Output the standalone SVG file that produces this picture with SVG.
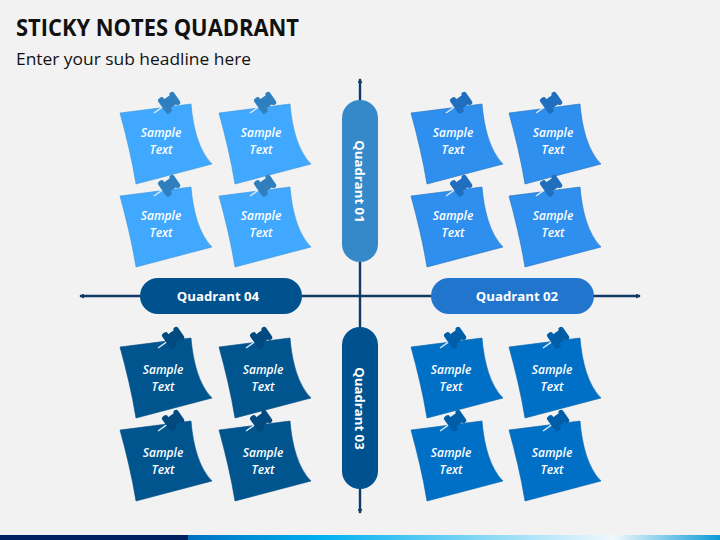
<svg xmlns="http://www.w3.org/2000/svg" xmlns:xlink="http://www.w3.org/1999/xlink" width="720" height="540" viewBox="0 0 720 540">
<style>
.t{font-family:"Open Sans","Liberation Sans",sans-serif}
.nt{font-size:12px;font-weight:600;font-style:italic;fill:#fff;text-anchor:middle}
.pl{font-size:13.2px;font-weight:700;fill:#fff;text-anchor:middle}
.ax{stroke:#0F3A66;stroke-width:2.4;fill:none}
.q1{fill:#40A9FF;stroke:#3A93D8;stroke-width:.6}
.q2{fill:#2E8FEF;stroke:#1F6FBE;stroke-width:.6}
.q3{fill:#0070C6;stroke:#0060A8;stroke-width:.6}
.q4{fill:#00558F;stroke:#004A80;stroke-width:.6}
</style>
<defs>
<path id="sheet" d="M0 0L71 -9C73 15 79 38 92 51L16 71C12 46 6 22 0 0Z"/>
<linearGradient id="bar" x1="0" x2="1" y1="0" y2="0">
<stop offset="0" stop-color="#0070C0"/><stop offset=".25" stop-color="#00B0F0"/><stop offset=".8" stop-color="#F2F8FC"/><stop offset="1" stop-color="#0A9BD8"/>
</linearGradient>
<g id="pin">
<path d="M0 0L11 0" stroke="#DCEBF5" stroke-width="1.4" fill="none"/>
<rect x="10" y="-9" width="6.500" height="18" rx="2.500"/>
<rect x="15" y="-5.500" width="9" height="11"/>
<rect x="23" y="-7.500" width="5" height="15" rx="2.500"/>
</g>
<marker id="ah" viewBox="0 0 6 6" refX="5" refY="3" markerWidth="5" markerHeight="5" markerUnits="userSpaceOnUse" orient="auto-start-reverse"><path d="M0 0L6 3L0 6Z" fill="#0F3A66"/></marker>
</defs>
<rect width="720" height="540" fill="#F2F2F2"/>
<text class="t" x="16" y="36" font-size="22.5" font-weight="700" fill="#111" textLength="283" lengthAdjust="spacingAndGlyphs">STICKY NOTES QUADRANT</text>
<text class="t" x="16" y="65" font-size="16.5" fill="#111" textLength="235" lengthAdjust="spacingAndGlyphs">Enter your sub headline here</text>
<g id="connectors">
<path class="ax" d="M360 79V513" marker-start="url(#ah)" marker-end="url(#ah)"/>
<path class="ax" d="M80 296H640" marker-start="url(#ah)" marker-end="url(#ah)"/>
</g>
<g id="pill-q1"><rect x="342" y="100" width="36" height="162" rx="18" fill="#3589C9"/><text class="t pl" transform="translate(360 181.500) rotate(90)" y="5">Quadrant 01</text></g>
<g id="pill-q3"><rect x="342" y="327" width="36" height="162" rx="18" fill="#00528F"/><text class="t pl" transform="translate(360 408.500) rotate(90)" y="5">Quadrant 03</text></g>
<g id="pill-q4"><rect x="140" y="278" width="162" height="36" rx="18" fill="#00528F"/><text class="t pl" x="218" y="300.500">Quadrant 04</text></g>
<g id="pill-q2"><rect x="431" y="278" width="163" height="36" rx="18" fill="#2275CC"/><text class="t pl" x="517" y="300.500">Quadrant 02</text></g>
<g id="note-1"><use xlink:href="#sheet" x="120" y="113" class="q1"/><use xlink:href="#pin" transform="translate(154 113) rotate(-35)" fill="#2F7FBF"/><text class="t nt" x="161" y="137">Sample</text><text class="t nt" x="161" y="154">Text</text></g>
<g id="note-2"><use xlink:href="#sheet" x="219" y="113" class="q1"/><use xlink:href="#pin" transform="translate(250 113) rotate(-35)" fill="#2F7FBF"/><text class="t nt" x="261" y="137">Sample</text><text class="t nt" x="261" y="154">Text</text></g>
<g id="note-3"><use xlink:href="#sheet" x="120" y="196" class="q1"/><use xlink:href="#pin" transform="translate(154 196) rotate(-35)" fill="#2F7FBF"/><text class="t nt" x="161" y="220">Sample</text><text class="t nt" x="161" y="237">Text</text></g>
<g id="note-4"><use xlink:href="#sheet" x="219" y="196" class="q1"/><use xlink:href="#pin" transform="translate(250 196) rotate(-35)" fill="#2F7FBF"/><text class="t nt" x="261" y="220">Sample</text><text class="t nt" x="261" y="237">Text</text></g>
<g id="note-5"><use xlink:href="#sheet" x="411" y="113" class="q2"/><use xlink:href="#pin" transform="translate(446 113) rotate(-35)" fill="#1F6FBE"/><text class="t nt" x="453" y="137">Sample</text><text class="t nt" x="453" y="154">Text</text></g>
<g id="note-6"><use xlink:href="#sheet" x="509" y="113" class="q2"/><use xlink:href="#pin" transform="translate(536 113) rotate(-35)" fill="#1F6FBE"/><text class="t nt" x="553" y="137">Sample</text><text class="t nt" x="553" y="154">Text</text></g>
<g id="note-7"><use xlink:href="#sheet" x="411" y="196" class="q2"/><use xlink:href="#pin" transform="translate(446 196) rotate(-35)" fill="#1F6FBE"/><text class="t nt" x="453" y="220">Sample</text><text class="t nt" x="453" y="237">Text</text></g>
<g id="note-8"><use xlink:href="#sheet" x="509" y="196" class="q2"/><use xlink:href="#pin" transform="translate(536 196) rotate(-35)" fill="#1F6FBE"/><text class="t nt" x="553" y="220">Sample</text><text class="t nt" x="553" y="237">Text</text></g>
<g id="note-9"><use xlink:href="#sheet" x="411" y="347" class="q3"/><use xlink:href="#pin" transform="translate(440 348) rotate(-35)" fill="#005EA8"/><text class="t nt" x="451" y="374">Sample</text><text class="t nt" x="451" y="391">Text</text></g>
<g id="note-10"><use xlink:href="#sheet" x="509" y="347" class="q3"/><use xlink:href="#pin" transform="translate(543 348) rotate(-35)" fill="#005EA8"/><text class="t nt" x="552" y="374">Sample</text><text class="t nt" x="552" y="391">Text</text></g>
<g id="note-11"><use xlink:href="#sheet" x="411" y="430" class="q3"/><use xlink:href="#pin" transform="translate(440 431) rotate(-35)" fill="#005EA8"/><text class="t nt" x="451" y="457">Sample</text><text class="t nt" x="451" y="474">Text</text></g>
<g id="note-12"><use xlink:href="#sheet" x="509" y="430" class="q3"/><use xlink:href="#pin" transform="translate(543 431) rotate(-35)" fill="#005EA8"/><text class="t nt" x="552" y="457">Sample</text><text class="t nt" x="552" y="474">Text</text></g>
<g id="note-13"><use xlink:href="#sheet" x="120" y="347" class="q4"/><use xlink:href="#pin" transform="translate(158 348) rotate(-35)" fill="#004A80"/><text class="t nt" x="163" y="374">Sample</text><text class="t nt" x="163" y="391">Text</text></g>
<g id="note-14"><use xlink:href="#sheet" x="219" y="347" class="q4"/><use xlink:href="#pin" transform="translate(246 348) rotate(-35)" fill="#004A80"/><text class="t nt" x="263" y="374">Sample</text><text class="t nt" x="263" y="391">Text</text></g>
<g id="note-15"><use xlink:href="#sheet" x="120" y="430" class="q4"/><use xlink:href="#pin" transform="translate(158 431) rotate(-35)" fill="#004A80"/><text class="t nt" x="163" y="457">Sample</text><text class="t nt" x="163" y="474">Text</text></g>
<g id="note-16"><use xlink:href="#sheet" x="219" y="430" class="q4"/><use xlink:href="#pin" transform="translate(246 431) rotate(-35)" fill="#004A80"/><text class="t nt" x="263" y="457">Sample</text><text class="t nt" x="263" y="474">Text</text></g>
<rect x="0" y="535" width="188" height="5" fill="#002060"/>
<rect x="188" y="535" width="532" height="5" fill="url(#bar)"/>
</svg>
